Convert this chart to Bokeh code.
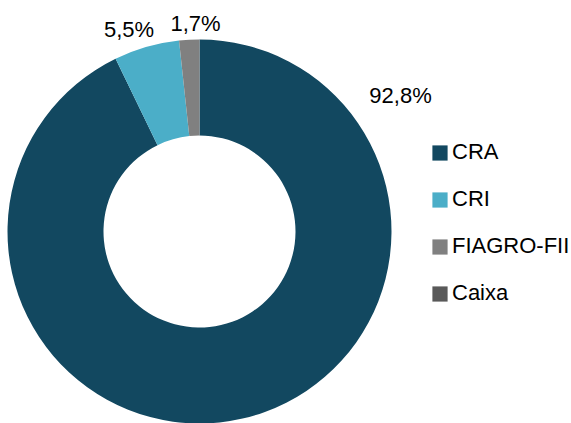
import math
from bokeh.plotting import figure
from bokeh.models import Range1d, Legend, LegendItem, ColumnDataSource
from bokeh.core.properties import value
from bokeh.embed import file_html
from bokeh.resources import INLINE

categories = ["CRA", "CRI", "FIAGRO-FII", "Caixa"]
shares = [92.8, 5.5, 1.7, 0.0]
labels = ["92,8%", "5,5%", "1,7%"]
colors = ["#124860", "#4BAEC8", "#808080", "#595959"]

W, H = 571, 423
FONT = "Liberation Sans"

p = figure(width=W, height=H, output_backend="svg", toolbar_location=None,
           x_range=Range1d(0, W), y_range=Range1d(0, H), min_border=0)
p.axis.visible = False
p.grid.visible = False
p.outline_line_color = None
p.background_fill_color = None
p.border_fill_color = None

cx, cy = 199, 192
r_out, r_in = 192, 96

total = sum(shares)
starts, ends = [], []
cum = 0.0
for s in shares:
    starts.append(math.pi / 2 - 2 * math.pi * cum / total)
    cum += s
    ends.append(math.pi / 2 - 2 * math.pi * cum / total)

items = []
for i, cat in enumerate(categories):
    if shares[i] > 0:
        src = ColumnDataSource(dict(x=[cx], y=[cy], s=[starts[i]], e=[ends[i]]))
        p.annular_wedge(x="x", y="y", inner_radius=r_in, outer_radius=r_out,
                        start_angle="s", end_angle="e", direction="clock",
                        fill_color=colors[i], line_color=None, source=src)
    # legend swatch renderer (not drawn in the plot area)
    sw = p.rect(x=[float("nan")], y=[float("nan")], width=1, height=1,
                fill_color=colors[i], line_color=None)
    items.append(LegendItem(label=cat, renderers=[sw]))

# label positions (style, not data)
label_x = [400, 128.5, 195]
label_y = [328, 394, 400.5]
p.text(x=label_x, y=label_y, text=labels, text_font=value(FONT),
       text_font_size="22px", text_align="center", text_baseline="middle",
       text_color="#000000")

legend = Legend(items=items, location=(430, 117), orientation="vertical",
                glyph_width=19, glyph_height=19, label_standoff=3,
                spacing=21, padding=0, margin=0,
                label_text_font=FONT, label_text_font_size="22px",
                label_text_color="#000000", border_line_color=None,
                background_fill_alpha=0)
p.add_layout(legend)

open("out.html", "w").write(file_html(p, INLINE))
